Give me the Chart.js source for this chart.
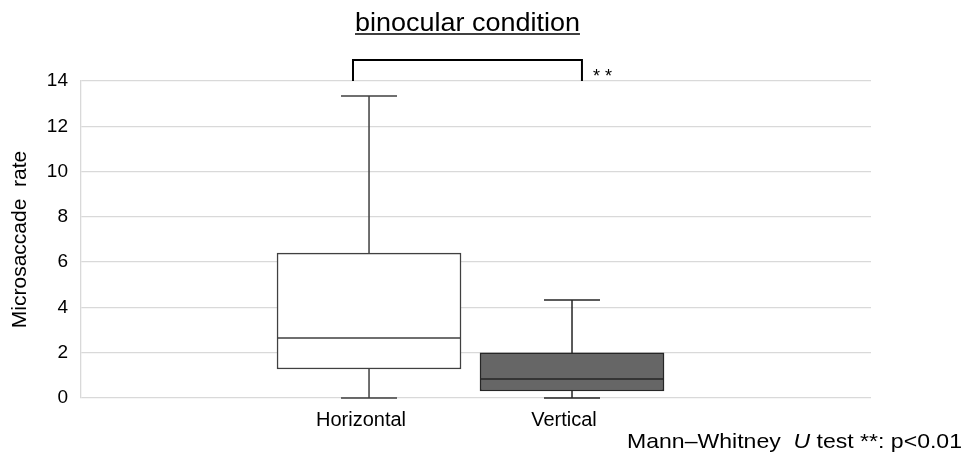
<!DOCTYPE html>
<html><head><meta charset="utf-8">
<script src="https://cdn.jsdelivr.net/npm/chart.js@4"></script>
<style>html,body{margin:0;padding:0;background:#fff}#wrap{width:969px;height:456px}</style>
</head><body><div id="wrap"><canvas id="c" width="969" height="456"></canvas></div>
<script>
const categories = ['Horizontal', 'Vertical'];
const whiskerLow = [0, 0];
const q1 = [1.28, 0.31];
const median = [2.65, 0.84];
const q3 = [6.40, 1.99];
const whiskerHigh = [13.34, 4.33];
const yTicks = [0, 2, 4, 6, 8, 10, 12, 14];
const boxFill = ['#ffffff', '#666666'];
const boxLine = ['#404040', '#262626'];
const titleText = 'binocular condition';
const sigLabel = '* *';
const bracketX = [0.921, 2.049];
const bracketY = [14, 14.93];
const noteParts = [['Mann\u2013Whitney  ', false], ['U', true], [' test **: p<0.01', false]];

const FONT = '"Liberation Sans", Arial, sans-serif';

function stretchedText(ctx, parts, xLeft, y, size, targetW) {
  const widths = parts.map(p => { ctx.font = (p[1] ? 'italic ' : '') + size + 'px ' + FONT; return ctx.measureText(p[0]).width; });
  const total = widths.reduce((a, b) => a + b, 0);
  const sx = targetW / total;
  ctx.save();
  ctx.translate(xLeft, y);
  ctx.scale(sx, 1);
  let x = 0;
  parts.forEach((p, k) => {
    ctx.font = (p[1] ? 'italic ' : '') + size + 'px ' + FONT;
    ctx.fillText(p[0], x, 0);
    x += widths[k];
  });
  ctx.restore();
}

const boxPlugin = {
  id: 'boxExtras',
  afterDatasetsDraw(chart) {
    const ctx = chart.ctx, xs = chart.scales.x, ys = chart.scales.y;
    const meta = chart.getDatasetMeta(0);
    ctx.save();
    categories.forEach((c, i) => {
      const el = meta.data[i];
      const xc = xs.getPixelForValue(i + 1);
      const half = el.width / 2;
      const cap = (xs.getPixelForValue(1.138) - xs.getPixelForValue(1));
      ctx.strokeStyle = boxLine[i];
      ctx.lineWidth = 1.5;
      ctx.beginPath();
      ctx.moveTo(xc, ys.getPixelForValue(q3[i]));
      ctx.lineTo(xc, ys.getPixelForValue(whiskerHigh[i]));
      ctx.moveTo(xc - cap, ys.getPixelForValue(whiskerHigh[i]));
      ctx.lineTo(xc + cap, ys.getPixelForValue(whiskerHigh[i]));
      ctx.moveTo(xc, ys.getPixelForValue(q1[i]));
      ctx.lineTo(xc, ys.getPixelForValue(whiskerLow[i]));
      ctx.moveTo(xc - cap, ys.getPixelForValue(whiskerLow[i]));
      ctx.lineTo(xc + cap, ys.getPixelForValue(whiskerLow[i]));
      ctx.moveTo(el.x - half, ys.getPixelForValue(median[i]));
      ctx.lineTo(el.x + half, ys.getPixelForValue(median[i]));
      ctx.stroke();
    });
    // significance bracket
    const bx0 = xs.getPixelForValue(bracketX[0]), bx1 = xs.getPixelForValue(bracketX[1]);
    const by0 = ys.getPixelForValue(bracketY[0]), by1 = ys.getPixelForValue(bracketY[1]);
    ctx.strokeStyle = '#000';
    ctx.lineWidth = 2;
    ctx.beginPath();
    ctx.moveTo(bx0, by0); ctx.lineTo(bx0, by1); ctx.lineTo(bx1, by1); ctx.lineTo(bx1, by0);
    ctx.stroke();
    ctx.fillStyle = '#000';
    ctx.font = '18px ' + FONT;
    ctx.textAlign = 'left'; ctx.textBaseline = 'alphabetic';
    ctx.fillText(sigLabel, bx1 + 11, by0 + 1);
    // title (underlined, spans the bracket)
    const tw = bx1 - bx0 - 4;
    stretchedText(ctx, [[titleText, false]], bx0 + 2, 31, 26, tw);
    ctx.lineWidth = 1.5;
    ctx.beginPath(); ctx.moveTo(bx0 + 2, 34); ctx.lineTo(bx0 + 2 + tw, 34); ctx.stroke();
    // footnote
    stretchedText(ctx, noteParts, 627, 448, 21, 335);
    ctx.restore();
  }
};

new Chart(document.getElementById('c'), {
  type: 'bar',
  data: {
    datasets: [{
      data: categories.map((c, i) => ({ x: i + 1, y: [q1[i], q3[i]] })),
      backgroundColor: boxFill,
      borderColor: boxLine,
      borderWidth: 1.5,
      borderSkipped: false,
      barThickness: 184
    }]
  },
  options: {
    responsive: false,
    animation: false,
    events: [],
    layout: { padding: { left: 0, right: 98, top: 81, bottom: 0 } },
    plugins: { legend: { display: false }, tooltip: { enabled: false } },
    scales: {
      x: {
        type: 'linear', min: -0.419, max: 3.473, offset: false,
        afterBuildTicks: s => { s.ticks = categories.map((c, i) => ({ value: i + 1 })); },
        afterFit: s => { s.height = 58; },
        grid: { display: false, drawTicks: false },
        border: { display: false },
        ticks: { color: '#000', font: { size: 20, family: FONT }, padding: 10, labelOffset: -8,
          callback: v => categories[v - 1] }
      },
      y: {
        min: 0, max: 14,
        afterBuildTicks: s => { s.ticks = yTicks.map(v => ({ value: v })); },
        afterFit: s => { s.width = 81; },
        grid: { color: '#d9d9d9', lineWidth: 1.3, drawTicks: false },
        border: { display: true, color: '#d9d9d9', width: 1.3 },
        ticks: { color: '#000', font: { size: 19, family: FONT }, padding: 13 },
        title: { display: true, text: 'Microsaccade  rate', color: '#000',
          font: { size: 21, family: FONT }, padding: { top: 8, bottom: 0 } }
      }
    }
  },
  plugins: [boxPlugin]
});
</script></body></html>
